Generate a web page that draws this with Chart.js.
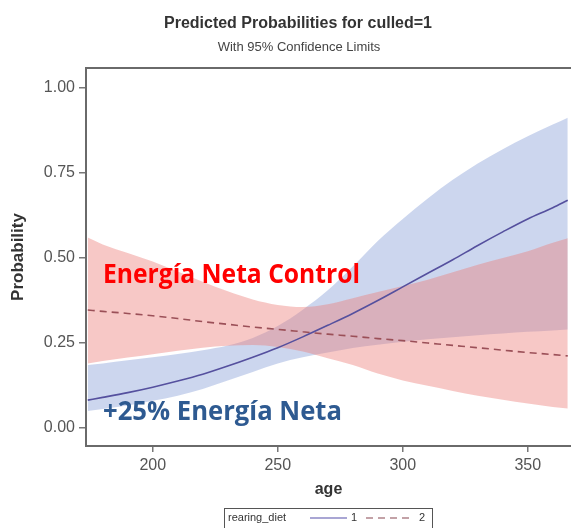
<!DOCTYPE html>
<html>
<head>
<meta charset="utf-8">
<script src="https://cdn.jsdelivr.net/npm/chart.js@4.4.0/dist/chart.umd.min.js"></script>
<style>
  body { margin: 0; background: #fff; }
  #wrap { width: 571px; height: 528px; position: relative; }
</style>
</head>
<body>
<div id="wrap"><canvas id="probChart"></canvas></div>
<script>
"use strict";

var ages = [174, 180, 190, 200, 210, 220, 230, 240, 250, 260, 270, 280, 290, 300, 310, 320, 330, 340, 350, 360, 366];

// rearing_diet = 1 (+25% energia neta)
var diet1Pred  = [0.082, 0.090, 0.104, 0.120, 0.138, 0.158, 0.182, 0.208, 0.236, 0.268, 0.302, 0.337, 0.375, 0.415, 0.455, 0.495, 0.537, 0.577, 0.615, 0.648, 0.670];
var diet1Upper = [0.185, 0.190, 0.199, 0.208, 0.218, 0.229, 0.243, 0.265, 0.300, 0.348, 0.405, 0.475, 0.550, 0.615, 0.675, 0.730, 0.778, 0.820, 0.858, 0.893, 0.913];
var diet1Lower = [0.050, 0.056, 0.066, 0.080, 0.095, 0.115, 0.140, 0.165, 0.190, 0.208, 0.222, 0.235, 0.245, 0.254, 0.261, 0.267, 0.273, 0.278, 0.283, 0.287, 0.290];

// rearing_diet = 2 (control)
var diet2Pred  = [0.347, 0.343, 0.337, 0.330, 0.322, 0.313, 0.305, 0.297, 0.290, 0.283, 0.276, 0.270, 0.263, 0.257, 0.250, 0.243, 0.236, 0.229, 0.222, 0.216, 0.212];
var diet2Upper = [0.560, 0.540, 0.515, 0.490, 0.460, 0.430, 0.402, 0.378, 0.362, 0.356, 0.364, 0.382, 0.400, 0.418, 0.436, 0.458, 0.480, 0.500, 0.520, 0.545, 0.558];
var diet2Lower = [0.190, 0.197, 0.207, 0.217, 0.227, 0.236, 0.242, 0.244, 0.238, 0.225, 0.205, 0.185, 0.160, 0.140, 0.124, 0.109, 0.095, 0.083, 0.072, 0.062, 0.057];

var xTicks = [200, 250, 300, 350];
var yTicks = [0, 0.25, 0.5, 0.75, 1];

function pts(values) {
    return ages.map(function(a, i) { return { x: a, y: values[i] }; });
}

var band = { pointRadius: 0, borderWidth: 0, cubicInterpolationMode: "monotone" };

var decorations = {
    id: "decorations",
    afterDraw: function(chart) {
        var ctx = chart.ctx;
        var area = chart.chartArea;
        ctx.save();

        // top frame line
        ctx.strokeStyle = "#6a6a6a";
        ctx.lineWidth = 2;
        ctx.beginPath();
        ctx.moveTo(area.left - 1, area.top);
        ctx.lineTo(area.right, area.top);
        ctx.stroke();

        // titles
        ctx.fillStyle = "#333";
        ctx.textAlign = "center";
        ctx.textBaseline = "middle";
        ctx.font = "bold 16px 'Liberation Sans'";
        ctx.fillText("Predicted Probabilities for culled=1", 298, 24, 268);
        ctx.font = "13px 'Liberation Sans'";
        ctx.fillStyle = "#444";
        ctx.fillText("With 95% Confidence Limits", 299, 47, 166);

        // annotations
        ctx.textAlign = "left";
        ctx.font = "bold 27px 'Open Sans'";
        ctx.fillStyle = "#ff0000";
        ctx.fillText("Energía Neta Control", 103, 275, 257);
        ctx.fillStyle = "#2e5a91";
        ctx.fillText("+25% Energía Neta", 103, 412, 239);

        // legend box
        ctx.strokeStyle = "#555";
        ctx.lineWidth = 1;
        ctx.strokeRect(224.5, 508.5, 208, 20);
        ctx.fillStyle = "#333";
        ctx.font = "11px 'Liberation Sans'";
        ctx.fillText("rearing_diet", 228, 518);
        ctx.strokeStyle = "#8c88c6";
        ctx.lineWidth = 1.5;
        ctx.beginPath();
        ctx.moveTo(310, 518);
        ctx.lineTo(347, 518);
        ctx.stroke();
        ctx.fillText("1", 351, 518);
        ctx.strokeStyle = "#b0848a";
        ctx.setLineDash([7, 5]);
        ctx.beginPath();
        ctx.moveTo(366, 518);
        ctx.lineTo(411, 518);
        ctx.stroke();
        ctx.setLineDash([]);
        ctx.fillText("2", 419, 518);

        ctx.restore();
    }
};

new Chart(document.getElementById("probChart"), {
    type: "line",
    data: {
        datasets: [
            { data: pts(diet1Pred), borderColor: "#55509e", borderWidth: 1.6, pointRadius: 0, fill: false, cubicInterpolationMode: "monotone", order: 0 },
            { data: pts(diet2Pred), borderColor: "#9b5058", borderWidth: 1.6, borderDash: [7, 5], pointRadius: 0, fill: false, cubicInterpolationMode: "monotone", order: 1 },
            Object.assign({ data: pts(diet2Upper), fill: "+1", backgroundColor: "rgba(236,125,118,0.42)", order: 2 }, band),
            Object.assign({ data: pts(diet2Lower), fill: false, order: 3 }, band),
            Object.assign({ data: pts(diet1Upper), fill: "+1", backgroundColor: "rgba(128,152,212,0.40)", order: 4 }, band),
            Object.assign({ data: pts(diet1Lower), fill: false, order: 5 }, band)
        ]
    },
    options: {
        responsive: true,
        maintainAspectRatio: false,
        animation: false,
        layout: { padding: { top: 68, right: 0, bottom: 0, left: 0 } },
        plugins: {
            legend: { display: false },
            tooltip: { enabled: false },
            title: { display: false }
        },
        scales: {
            x: {
                type: "linear",
                min: 173.3,
                max: 367.3,
                afterFit: function(scale) { scale.height = 82; },
                afterBuildTicks: function(scale) {
                    scale.ticks = xTicks.map(function(v) { return { value: v }; });
                },
                ticks: {
                    color: "#555",
                    font: { family: "'Liberation Sans'", size: 16 },
                    padding: 4,
                    maxRotation: 0,
                    callback: function(v) { return v; }
                },
                grid: { drawOnChartArea: false, drawTicks: true, tickLength: 6, color: "#777", lineWidth: 1.5 },
                border: { display: true, color: "#6a6a6a", width: 2 },
                title: {
                    display: true,
                    text: "age",
                    color: "#333",
                    font: { family: "'Liberation Sans'", size: 16, weight: "bold" },
                    padding: { top: 0, bottom: 29 }
                }
            },
            y: {
                min: -0.053,
                max: 1.059,
                afterFit: function(scale) { scale.width = 86; },
                afterBuildTicks: function(scale) {
                    scale.ticks = yTicks.map(function(v) { return { value: v }; });
                },
                ticks: {
                    color: "#555",
                    font: { family: "'Liberation Sans'", size: 16 },
                    padding: 4,
                    callback: function(v) { return v.toFixed(2); }
                },
                grid: { drawOnChartArea: false, drawTicks: true, tickLength: 7, color: "#777", lineWidth: 1.5 },
                border: { display: true, color: "#6a6a6a", width: 2 },
                title: {
                    display: true,
                    text: "Probability",
                    color: "#333",
                    font: { family: "'Liberation Sans'", size: 17, weight: "bold" },
                    padding: { top: 8, bottom: 0 }
                }
            }
        }
    },
    plugins: [decorations]
});
</script>
</body>
</html>
